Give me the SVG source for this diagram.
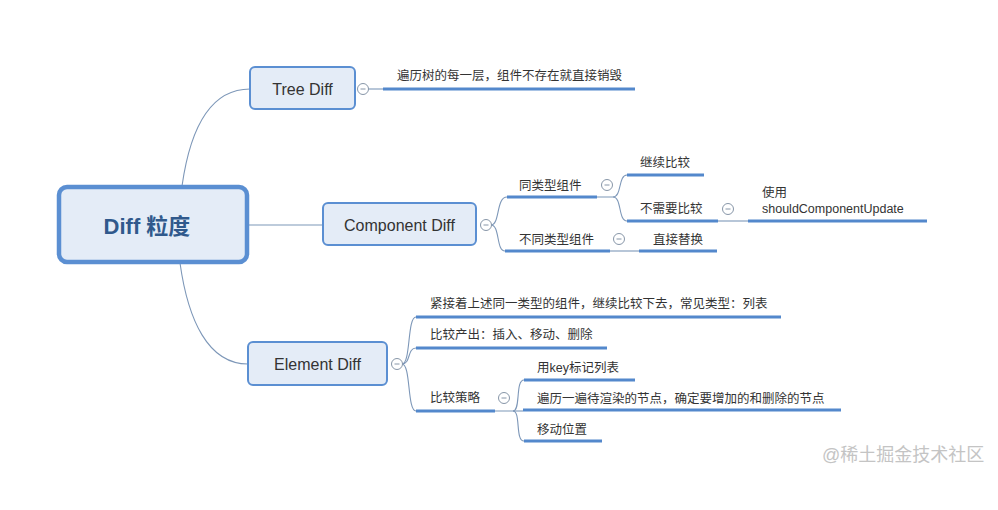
<svg xmlns="http://www.w3.org/2000/svg" width="998" height="510" viewBox="0 0 998 510">
<style>
.box{fill:#e4ecf7;stroke:#5b8fd2;stroke-width:2}
.root{fill:#e4ecf7;stroke:#5b8fd2;stroke-width:4.5}
.t{font-family:"Liberation Sans","Noto Sans CJK SC",sans-serif;fill:#333}
.n{font-size:16px}
.s{font-size:12.5px}
.c{fill:none;stroke:#7d97b8;stroke-width:1.1}
.u{stroke:#5388cc;stroke-width:3}
.col{fill:#fff;stroke:#8796a8;stroke-width:1}
.m{stroke:#8796a8;stroke-width:1}
</style>
<defs>
<g id="minus"><circle class="col" r="5.5"/><line class="m" x1="-2.5" y1="0" x2="2.5" y2="0"/></g>
</defs>
<rect width="998" height="510" fill="#fff"/>
<g id="connectors">
<path class="c" d="M182,186 C190,130 210,89 250,89"/>
<path class="c" d="M247,225 L323,225"/>
<path class="c" d="M180,263 C188,320 208,364 248,364"/>
<path class="c" d="M368,89 L383,89"/>
<path class="c" d="M491,225 C500,225 496,197 507,197"/>
<path class="c" d="M491,225 C500,225 496,251 505,251"/>
<path class="c" d="M597,197 L613,197 C622,197 618,175 627,175"/>
<path class="c" d="M613,197 C622,197 618,221 627,221"/>
<path class="c" d="M610,251 L639,251"/>
<path class="c" d="M718,221 L748,221"/>
<path class="c" d="M402,364 C411,364 407,317 416,317"/>
<path class="c" d="M402,364 C411,364 407,348 416,348"/>
<path class="c" d="M402,364 C411,364 407,411 416,411"/>
<path class="c" d="M495,411 L513,411 C521,411 515,380 524,380"/>
<path class="c" d="M513,411 L523,411"/>
<path class="c" d="M513,411 C521,411 515,441 524,441"/>
</g>
<g id="root">
<rect class="root" x="59" y="187" width="188" height="75" rx="8"/>
<text x="147" y="234" text-anchor="middle" font-family="Liberation Sans,Noto Sans CJK SC,sans-serif" font-size="22" font-weight="bold" fill="#30598c">Diff 粒度</text>
</g>
<g id="tree-diff">
<rect class="box" x="250" y="67" width="105" height="42" rx="5"/>
<text class="t n" x="302.5" y="94.5" text-anchor="middle">Tree Diff</text>
<use href="#minus" x="363" y="89"/>
</g>
<g id="tree-child">
<line class="u" x1="383" y1="89" x2="635" y2="89"/>
<text class="t s" x="397" y="80">遍历树的每一层，组件不存在就直接销毁</text>
</g>
<g id="component-diff">
<rect class="box" x="323" y="203" width="153" height="42" rx="5"/>
<text class="t n" x="399.5" y="230.5" text-anchor="middle">Component Diff</text>
<use href="#minus" x="486" y="225"/>
</g>
<g id="same-type">
<line class="u" x1="507" y1="197" x2="597" y2="197"/>
<text class="t s" x="519" y="190">同类型组件</text>
<use href="#minus" x="607" y="185"/>
</g>
<g id="continue">
<line class="u" x1="627" y1="175" x2="704" y2="175"/>
<text class="t s" x="640" y="167">继续比较</text>
</g>
<g id="no-need">
<line class="u" x1="627" y1="221" x2="718" y2="221"/>
<text class="t s" x="640" y="213">不需要比较</text>
<use href="#minus" x="728" y="209"/>
</g>
<g id="use-scu">
<line class="u" x1="748" y1="221" x2="927" y2="221"/>
<text class="t s" x="762" y="197">使用</text>
<text class="t s" x="762" y="213">shouldComponentUpdate</text>
</g>
<g id="diff-type">
<line class="u" x1="505" y1="251" x2="610" y2="251"/>
<text class="t s" x="519" y="244">不同类型组件</text>
<use href="#minus" x="619" y="239"/>
</g>
<g id="replace">
<line class="u" x1="639" y1="251" x2="717" y2="251"/>
<text class="t s" x="653" y="244">直接替换</text>
</g>
<g id="element-diff">
<rect class="box" x="248" y="342" width="139" height="43" rx="5"/>
<text class="t n" x="317.5" y="369.5" text-anchor="middle">Element Diff</text>
<use href="#minus" x="397" y="364"/>
</g>
<g id="el-1">
<line class="u" x1="416" y1="317" x2="781" y2="317"/>
<text class="t s" x="430" y="308">紧接着上述同一类型的组件，继续比较下去，常见类型：列表</text>
</g>
<g id="el-2">
<line class="u" x1="416" y1="348" x2="607" y2="348"/>
<text class="t s" x="430" y="339">比较产出：插入、移动、删除</text>
</g>
<g id="el-3">
<line class="u" x1="416" y1="411" x2="495" y2="411"/>
<text class="t s" x="430" y="402">比较策略</text>
<use href="#minus" x="504" y="398"/>
</g>
<g id="key">
<line class="u" x1="524" y1="380" x2="635" y2="380"/>
<text class="t s" x="537" y="372">用key标记列表</text>
</g>
<g id="traverse">
<line class="u" x1="523" y1="410" x2="841" y2="410"/>
<text class="t s" x="537" y="403">遍历一遍待渲染的节点，确定要增加的和删除的节点</text>
</g>
<g id="move">
<line class="u" x1="524" y1="441" x2="602" y2="441"/>
<text class="t s" x="537" y="434">移动位置</text>
</g>
<text x="822" y="461" font-family="Liberation Sans,Noto Sans CJK SC,sans-serif" font-size="18" fill="#c4c4c4">@稀土掘金技术社区</text>
</svg>
